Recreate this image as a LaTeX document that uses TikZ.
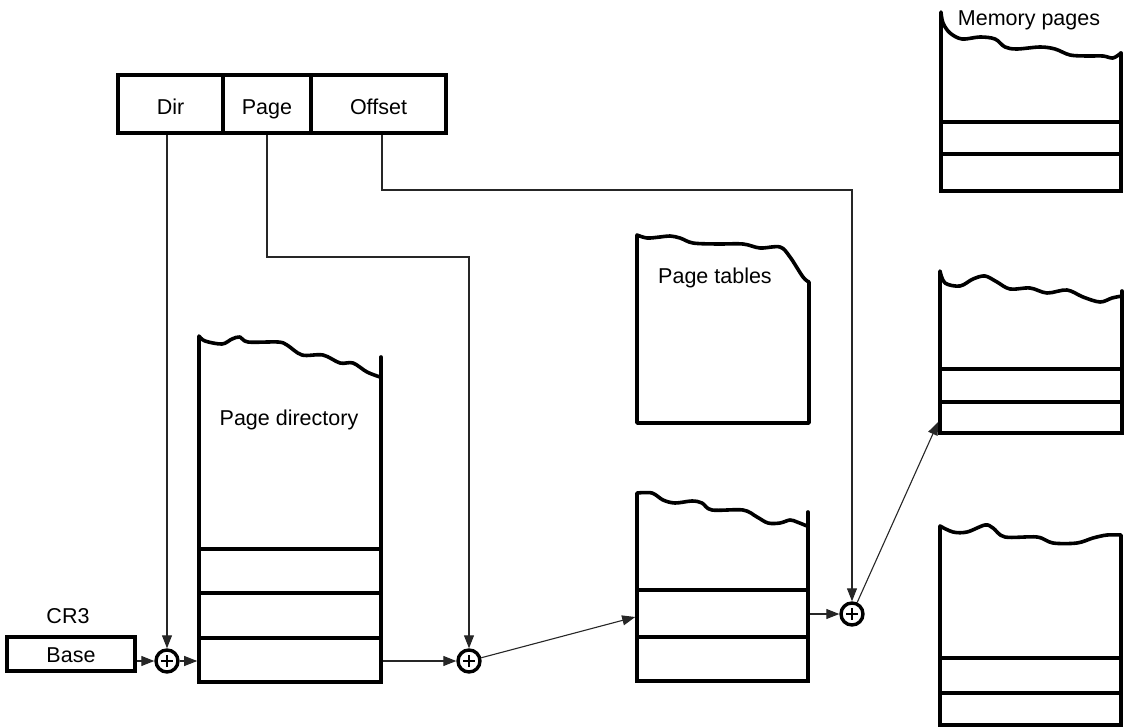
\documentclass[tikz,border=0pt]{standalone}
\usepackage{fontspec}
\setmainfont{Liberation Sans}
\usetikzlibrary{arrows.meta}

\begin{document}
\begin{tikzpicture}[x=1pt,y=-1pt,
  every node/.style={font=\fontsize{21.5}{25}\selectfont},
  heavy/.style={line width=3.6pt, line join=round, line cap=round},
  cell/.style={draw, line width=3.6pt, inner sep=0pt},
  adder/.style={circle, draw, line width=3.4pt, minimum size=22pt, inner sep=0pt},
  link/.style={line width=1.1pt, draw=black!85},
  tip/.style={-{Triangle[length=13pt,width=10pt]}},
  wave/.style={smooth, tension=0.55}
]
\useasboundingbox (0,0) rectangle (1128,728);

% linear address fields
\node[cell, minimum width=105pt, minimum height=58pt, text height=20pt, text depth=0pt] (dir) at (170.5,104) {Dir};
\node[cell, minimum width=88pt, minimum height=58pt, text height=20pt, text depth=0pt] (page) at (267,104) {Page};
\node[cell, minimum width=135pt, minimum height=58pt, text height=20pt, text depth=0pt] (offset) at (378.5,104) {Offset};

% CR3 register
\node[anchor=base] (cr3) at (68,623) {CR3};
\node[cell, minimum width=128pt, minimum height=34pt, text height=16pt, text depth=0pt] (base) at (71,654) {Base};

% adders
\node[adder] (c1) at (167,661) {};
\node[adder] (c2) at (469,661) {};
\node[adder] (c3) at (852,614) {};
\foreach \c in {c1,c2,c3}
  \draw[line width=1.4pt] ([xshift=-6pt]\c.center) -- ([xshift=6pt]\c.center)
                          ([yshift=-6pt]\c.center) -- ([yshift=6pt]\c.center);

% page directory
\draw[heavy] (199,549) -- plot[wave] coordinates {(199,336) (205,341) (222,344) (232,339) (240,337) (248,342) (278,342) (287,345) (302,355) (323,355) (340,363) (353,363) (367,372) (380,377)};
\draw[heavy] (381,357) -- (381,549);
\node[cell, minimum width=182pt, minimum height=44pt] (pd1) at (290,571) {};
\node[cell, minimum width=182pt, minimum height=45pt] (pd2) at (290,615.5) {};
\node[cell, minimum width=182pt, minimum height=44pt] (pd3) at (290,660) {};
\node[anchor=base] (pdlabel) at (289,425) {Page directory};

% page tables (label sheet)
\draw[heavy] (637,423) -- plot[wave] coordinates {(637,235) (647,238) (660,237) (670,236) (680,238) (693,243) (717,244) (743,244) (760,248) (780,247) (790,257) (803,277) (809,282)} -- (809,423) -- cycle;
\node[anchor=base] (ptlabel) at (715,283) {Page tables};

% page table in use
\draw[heavy] (637,590) -- plot[wave] coordinates {(637,493) (652,493) (663,500) (675,503) (692,501) (702,503) (712,510) (743,510) (757,517) (768,523) (780,523) (790,520) (797,522) (807,526)};
\draw[heavy] (808,512) -- (808,590);
\node[cell, minimum width=171pt, minimum height=47pt] (ptA) at (722.5,613.5) {};
\node[cell, minimum width=171pt, minimum height=44pt] (ptB) at (722.5,659) {};

% memory pages
\draw[heavy] (941,122) -- plot[wave] coordinates {(941,12) (943,23) (950,33) (962,39) (980,37) (995,39) (1005,47) (1017,49) (1040,47) (1055,49) (1070,55) (1087,56) (1103,56) (1113,58) (1121,53)};
\draw[heavy] (1121,53) -- (1121,122);
\node[cell, minimum width=180pt, minimum height=32pt] (m1a) at (1031,138) {};
\node[cell, minimum width=180pt, minimum height=37pt] (m1b) at (1031,172.5) {};
\node[anchor=base] (mlabel) at (1029,25) {Memory pages};

\draw[heavy] (940,369) -- plot[wave] coordinates {(940,271) (945,283) (960,286) (973,279) (985,276) (997,282) (1010,289) (1030,288) (1047,293) (1067,290) (1083,297) (1100,302) (1112,298) (1122,296)};
\draw[heavy] (1122,291) -- (1122,369);
\node[cell, minimum width=182pt, minimum height=33pt] (m2a) at (1031,385.5) {};
\node[cell, minimum width=182pt, minimum height=31pt] (m2b) at (1031,417.5) {};

\draw[heavy] (940,658) -- plot[wave] coordinates {(940,526) (953,532) (967,532) (985,525) (993,528) (1005,537) (1037,537) (1053,543) (1077,543) (1093,538) (1107,535) (1121,535)} -- (1121,658);
\node[cell, minimum width=181pt, minimum height=35pt] (m3a) at (1030.5,675.5) {};
\node[cell, minimum width=181pt, minimum height=32pt] (m3b) at (1030.5,709) {};

% routing points
\coordinate (pbend) at (469,257);
\coordinate (odrop) at (382,190);
\coordinate (obend) at (852,190);

% connectors
\draw[link,tip] (dir.south -| c1) -- (c1);
\draw[link,tip] (page.south) |- (pbend) -- (c2);
\draw[link,tip] (offset.south -| odrop) -- (odrop) -- (obend) -- (c3);
\draw[link,tip] (base.east |- c1) -- (c1);
\draw[link,tip] (c1) -- (c1 -| pd3.west);
\draw[link,tip] (pd3.east |- c2) -- (c2);
\draw[link,tip] (c2) -- ([yshift=-3.5pt]ptA.west);
\draw[link,tip] (ptA.east |- c3) -- (c3);
\draw[link,tip] (c3) -- ([yshift=-4.5pt]m2b.west);
\end{tikzpicture}
\end{document}
